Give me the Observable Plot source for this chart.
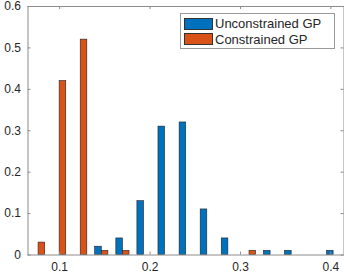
<!DOCTYPE html>
<html>
<head>
<meta charset="utf-8">
<script src="https://cdn.jsdelivr.net/npm/d3@7"></script>
<script src="https://cdn.jsdelivr.net/npm/@observablehq/plot@0.6"></script>
<style>
  html, body { margin: 0; padding: 0; background: #fff; }
  #wrap { position: relative; width: 344px; height: 274px; }
  #legend {
    position: absolute; left: 180px; top: 13px; width: 155px; height: 36px;
    border: 1px solid #9a9a9a; background: #fff; box-sizing: border-box;
    font-family: "Liberation Sans", Arial, Helvetica, sans-serif; font-size: 13px; color: #262626;
  }
  .item { position: absolute; left: 3px; height: 12px; display: flex; align-items: center; white-space: nowrap; }
  .sw { width: 29px; height: 12px; border: 0.6px solid #333; box-sizing: border-box; margin-right: 2px; }
</style>
</head>
<body>
<div id="wrap">
  <div id="chart"></div>
  <div id="legend">
    <div class="item" style="top:3.5px"><div class="sw" style="background:#0072BD"></div><span>Unconstrained GP</span></div>
    <div class="item" style="top:19px"><div class="sw" style="background:#D95319"></div><span>Constrained GP</span></div>
  </div>
</div>
<script>
const binCenters = [0.0767, 0.1000, 0.1233, 0.1466, 0.1700, 0.1933, 0.2166, 0.2400, 0.2633, 0.2866, 0.3100, 0.3333, 0.3566, 0.3800, 0.4030];
const unconstrained = [0, 0, 0, 0.02, 0.04, 0.13, 0.31, 0.32, 0.11, 0.04, 0, 0.01, 0.01, 0, 0.01];
const constrained = [0.03, 0.42, 0.52, 0.01, 0.01, 0, 0, 0, 0, 0, 0.01, 0, 0, 0, 0];
const seriesNames = ["Unconstrained GP", "Constrained GP"];
const seriesColors = ["#0072BD", "#D95319"];
const xTicks = [0.1, 0.2, 0.3, 0.4];
const yTicks = [0, 0.1, 0.2, 0.3, 0.4, 0.5, 0.6];

const barHalf = 0.0073;
const rows = [];
binCenters.forEach((c, i) => {
  if (unconstrained[i] > 0) rows.push({x1: c - barHalf, x2: c, y: unconstrained[i], s: seriesNames[0]});
  if (constrained[i] > 0) rows.push({x1: c, x2: c + barHalf, y: constrained[i], s: seriesNames[1]});
});

const axisColor = "#8c8c8c";
const chart = Plot.plot({
  width: 344,
  height: 274,
  marginLeft: 27.5,
  marginRight: 0.5,
  marginTop: 6,
  marginBottom: 19.5,
  style: {fontFamily: '"Liberation Sans", Arial, Helvetica, sans-serif', fontSize: "12px", color: "#262626", background: "#fff"},
  x: {domain: [0.065, 0.4145]},
  y: {domain: [0, 0.6]},
  color: {domain: seriesNames, range: seriesColors},
  marks: [
    Plot.rect(rows, {x1: "x1", x2: "x2", y1: 0, y2: "y", fill: "s", stroke: "#222", strokeWidth: 0.6}),
    Plot.frame({stroke: axisColor, strokeWidth: 1}),
    Plot.tickX(xTicks, {x: d => d, stroke: axisColor, insetTop: 245.5}),
    Plot.tickX(xTicks, {x: d => d, stroke: axisColor, insetBottom: 245.5}),
    Plot.tickY(yTicks, {y: d => d, stroke: axisColor, insetRight: 313}),
    Plot.tickY(yTicks, {y: d => d, stroke: axisColor, insetLeft: 313}),
    Plot.axisX({ticks: xTicks, tickSize: 0, tickPadding: 7, tickFormat: d3.format("~g"), label: null}),
    Plot.axisY({ticks: yTicks, tickSize: 0, tickPadding: 7, tickFormat: d3.format("~g"), label: null})
  ]
});
document.getElementById("chart").appendChild(chart);
</script>
</body>
</html>
